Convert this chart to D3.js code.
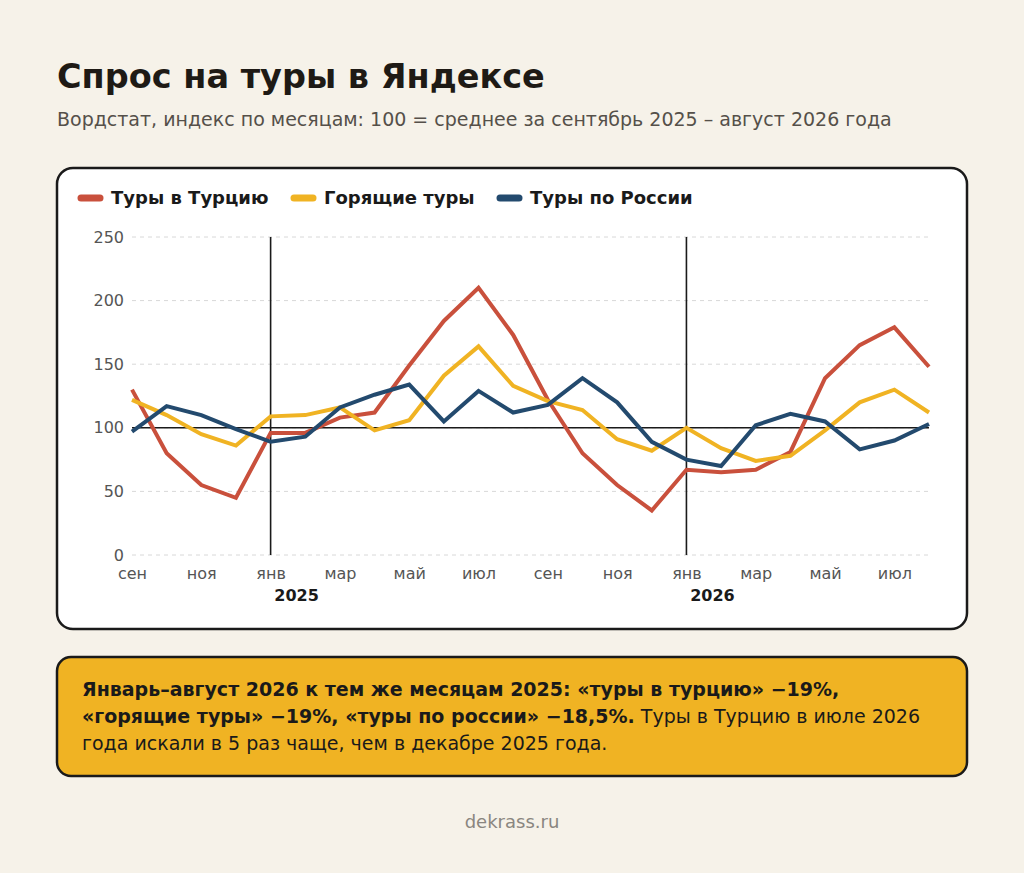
<!DOCTYPE html>
<html><head><meta charset="utf-8">
<script src="https://cdn.jsdelivr.net/npm/d3@7"></script>
<style>
html,body{margin:0;padding:0;background:#f6f2e9;}
svg{display:block;font-family:"DejaVu Sans",sans-serif;}
</style></head>
<body>
<svg id="c" width="1024" height="873"></svg>
<script>
const months = ["сен","окт","ноя","дек","янв","фев","мар","апр","май","июн","июл","авг","сен","окт","ноя","дек","янв","фев","мар","апр","май","июн","июл","авг"];
const tickLabelIdx = [0,2,4,6,8,10,12,14,16,18,20,22];
const yearMarks = [{idx:4,label:"2025"},{idx:16,label:"2026"}];
const yTicks = [0,50,100,150,200,250];
const turkey = [130,80,55,45,96,96,108,112,149,184,210,173,122,80,55,35,67,65,67,81,139,165,179,148];
const hot    = [122,110,95,86,109,110,116,98,106,141,164,133,121,114,91,82,100,84,74,78,98,120,130,112];
const russia = [97,117,110,99,89,93,116,126,134,105,129,112,118,139,120,89,75,70,102,111,105,83,90,103];
const seriesNames = ["Туры в Турцию","Горящие туры","Туры по России"];
const colors = ["#c9503c","#f0b323","#234a6e"];

const svg = d3.select("#c");
svg.append("rect").attr("width",1024).attr("height",873).attr("fill","#f6f2e9");

svg.append("text").attr("x",57).attr("y",88).attr("font-size",33.5).attr("font-weight","bold").attr("fill","#1e1a15").text("Спрос на туры в Яндексе");
svg.append("text").attr("x",57).attr("y",126).attr("font-size",19).attr("fill","#555049").text("Вордстат, индекс по месяцам: 100 = среднее за сентябрь 2025 – август 2026 года");

// card
svg.append("rect").attr("x",57).attr("y",168).attr("width",910).attr("height",461).attr("rx",16).attr("fill","#fff").attr("stroke","#1a1a1a").attr("stroke-width",2.5);

// legend
const legX = [78,291,497];
seriesNames.forEach((n,i)=>{
  svg.append("line").attr("x1",legX[i]+3).attr("x2",legX[i]+22).attr("y1",198).attr("y2",198).attr("stroke",colors[i]).attr("stroke-width",7).attr("stroke-linecap","round");
  svg.append("text").attr("x",legX[i]+33).attr("y",204).attr("font-size",18).attr("font-weight","bold").attr("fill","#1a1a1a").text(n);
});

const x = d3.scaleLinear().domain([0,23]).range([132,929]);
const y = d3.scaleLinear().domain([0,250]).range([555,237]);

// gridlines
const g = svg.append("g");
g.selectAll("line.grid").data(yTicks).enter().append("line")
 .attr("x1",132).attr("x2",929).attr("y1",d=>y(d)).attr("y2",d=>y(d))
 .attr("stroke","#d8d8d8").attr("stroke-width",1).attr("stroke-dasharray","4,4");

// y axis
const yAxis = d3.axisLeft(y).tickValues(yTicks).tickSize(0).tickPadding(8);
const ya = svg.append("g").attr("transform","translate(132,0)").call(yAxis);
ya.select(".domain").remove();
ya.selectAll("text").attr("font-size",16).attr("fill","#555").attr("font-family","DejaVu Sans");

// x axis
const xAxis = d3.axisBottom(x).tickValues(tickLabelIdx).tickFormat(i=>months[i]).tickSize(0).tickPadding(13);
const xa = svg.append("g").attr("transform","translate(0,555)").call(xAxis);
xa.select(".domain").remove();
xa.selectAll("text").attr("font-size",16).attr("fill","#555").attr("font-family","DejaVu Sans");

yearMarks.forEach(m=>{
  svg.append("line").attr("x1",x(m.idx)).attr("x2",x(m.idx)).attr("y1",237).attr("y2",555).attr("stroke","#1a1a1a").attr("stroke-width",1.6);
  svg.append("text").attr("x",x(m.idx)+26).attr("y",601).attr("text-anchor","middle").attr("font-size",16).attr("font-weight","bold").attr("fill","#1a1a1a").text(m.label);
});
svg.append("line").attr("x1",132).attr("x2",929).attr("y1",y(100)).attr("y2",y(100)).attr("stroke","#1a1a1a").attr("stroke-width",1.6);

const line = d3.line().x((d,i)=>x(i)).y(d=>y(d));
[turkey,hot,russia].forEach((s,i)=>{
  svg.append("path").datum(s).attr("d",line).attr("fill","none").attr("stroke",colors[i]).attr("stroke-width",4).attr("stroke-linejoin","miter");
});

// callout
svg.append("rect").attr("x",57).attr("y",657).attr("width",910).attr("height",119).attr("rx",14).attr("fill","#f0b323").attr("stroke","#1a1a1a").attr("stroke-width",2.5);
const t1 = svg.append("text").attr("x",82).attr("y",696).attr("font-size",19).attr("fill","#1a1a1a");
t1.append("tspan").attr("font-weight","bold").text("Январь–август 2026 к тем же месяцам 2025: «туры в турцию» −19%,");
const t2 = svg.append("text").attr("x",82).attr("y",723).attr("font-size",19).attr("fill","#1a1a1a");
t2.append("tspan").attr("font-weight","bold").text("«горящие туры» −19%, «туры по россии» −18,5%.");
t2.append("tspan").text(" Туры в Турцию в июле 2026");
svg.append("text").attr("x",82).attr("y",750).attr("font-size",19).attr("fill","#1a1a1a").text("года искали в 5 раз чаще, чем в декабре 2025 года.");

svg.append("text").attr("x",512).attr("y",828).attr("text-anchor","middle").attr("font-size",18).attr("fill","#8a8680").text("dekrass.ru");
</script>
</body></html>
